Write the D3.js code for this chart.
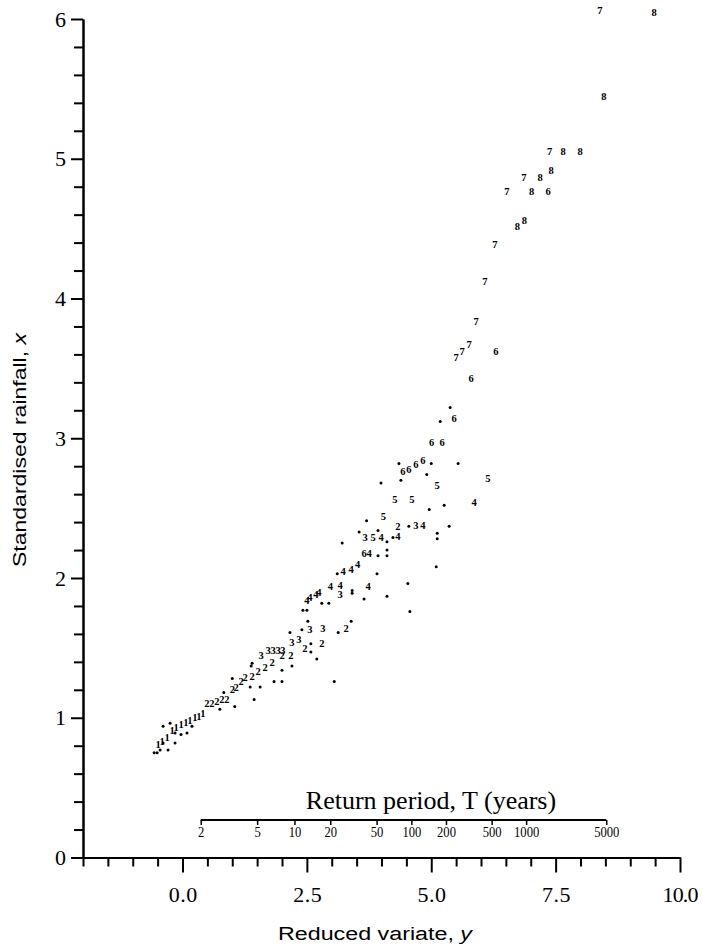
<!DOCTYPE html>
<html>
<head>
<meta charset="utf-8">
<script src="https://cdn.jsdelivr.net/npm/d3@7"></script>
<style>
body { margin: 0; background: #fff; }
</style>
</head>
<body>
<div id="chart"></div>
<script>
// axis ticks
var xTickMajor = [0, 2.5, 5, 7.5, 10];
var xTickLabels = ["0.0", "2.5", "5.0", "7.5", "10.0"];
var yTickMajor = [0, 1, 2, 3, 4, 5, 6];
var returnPeriods = [2, 5, 10, 20, 50, 100, 200, 500, 1000, 5000];

// plotted points, [reduced variate y, standardised rainfall x], one list per marker digit
var s1 = [[-0.49,0.81],[-0.41,0.83],[-0.31,0.86],[-0.21,0.91],[-0.13,0.93],[-0.03,0.95],[0.07,0.97],[0.15,0.98],[0.25,1.00],[0.33,1.01],[0.41,1.03]];
var s2 = [[0.49,1.10],[0.59,1.10],[0.69,1.12],[0.79,1.13],[0.89,1.13],[1.00,1.20],[1.08,1.22],[1.18,1.26],[1.26,1.29],[1.40,1.30],[1.52,1.33],[1.66,1.36],[1.80,1.40],[2.00,1.45],[2.18,1.45],[2.46,1.50],[2.80,1.53],[3.29,1.64],[4.33,2.37]];
var s3 = [[1.58,1.45],[1.72,1.48],[1.82,1.48],[1.92,1.48],[2.02,1.48],[2.20,1.54],[2.34,1.56],[2.56,1.63],[2.82,1.64],[3.17,1.88],[3.67,2.29],[4.69,2.38]];
var s4 = [[2.50,1.84],[2.56,1.86],[2.68,1.88],[2.74,1.90],[2.97,1.94],[3.17,1.95],[3.23,2.05],[3.39,2.06],[3.52,2.10],[3.73,1.94],[3.75,2.18],[3.99,2.29],[4.33,2.30],[4.83,2.38],[5.86,2.54]];
var s5 = [[3.83,2.29],[4.04,2.44],[4.27,2.56],[4.61,2.56],[5.12,2.66],[6.14,2.71]];
var s6 = [[3.65,2.18],[4.43,2.76],[4.55,2.78],[4.69,2.81],[4.83,2.84],[5.01,2.97],[5.22,2.97],[5.46,3.14],[5.80,3.43],[6.30,3.62],[7.35,4.77]];
var s7 = [[5.50,3.58],[5.62,3.62],[5.76,3.67],[5.90,3.84],[6.08,4.12],[6.28,4.39],[6.52,4.77],[6.86,4.87],[7.38,5.05],[8.39,6.06]];
var s8 = [[6.73,4.52],[6.87,4.56],[7.02,4.77],[7.19,4.87],[7.41,4.92],[7.65,5.05],[7.99,5.05],[8.47,5.45],[9.48,6.05]];
var dots = [[-0.57,0.75],[-0.51,0.75],[-0.45,0.77],[-0.29,0.77],[-0.39,0.82],[-0.15,0.82],[-0.15,0.89],[-0.03,0.88],[0.09,0.89],[0.19,0.94],[-0.39,0.94],[-0.25,0.96],
            [0.75,1.06],[1.05,1.08],[1.44,1.13],[1.00,1.28],[0.83,1.18],[1.56,1.22],[1.36,1.22],[1.38,1.37],[1.40,1.39],
            [2.16,1.61],[2.40,1.63],[2.52,1.69],[2.70,1.42],[3.05,1.26],[3.13,1.61],[2.00,1.34],[2.20,1.37],[1.84,1.26],[2.00,1.26],[2.58,1.53],[2.58,1.47],
            [2.42,1.77],[2.50,1.77],[2.80,1.82],[2.94,1.82],[3.39,1.69],
            [3.11,2.03],[3.41,1.91],[3.41,1.89],[3.65,1.85],[4.11,1.87],[3.91,2.03],[4.53,1.96],[4.57,1.76],[5.10,2.08],
            [3.21,2.25],[3.55,2.33],[3.93,2.34],[3.93,2.16],[4.11,2.20],[4.11,2.16],[4.11,2.26],[4.23,2.29],[3.70,2.41],[3.99,2.68],
            [4.55,2.37],[5.12,2.32],[5.12,2.28],[5.36,2.37],[4.96,2.49],[5.26,2.52],
            [4.35,2.82],[4.39,2.70],[4.91,2.74],[5.00,2.82],[5.54,2.82],[5.18,3.12],[5.38,3.22]];

var series = [s1, s2, s3, s4, s5, s6, s7, s8];

var svg = d3.select("#chart")
            .append("svg")
            .attr("width", 703)
            .attr("height", 945);

var x = d3.scaleLinear().domain([-2, 10]).range([83, 680]);
var y = d3.scaleLinear().domain([0, 6]).range([857.5, 19]);

// gumbel reduced variate for a return period
function gumbel(T) {
    return -Math.log(-Math.log(1 - 1 / T));
}

// x axis: minor then major ticks
var xMinor = d3.range(-2, 10.01, 0.5).filter(function(v) { return xTickMajor.indexOf(v) < 0; });
svg.append("g")
    .attr("transform", "translate(0," + y(0) + ")")
    .call(d3.axisBottom(x).tickValues(xMinor).tickSize(9).tickSizeOuter(0).tickFormat(""));
var xAxis = svg.append("g")
    .attr("transform", "translate(0," + y(0) + ")")
    .call(d3.axisBottom(x).tickValues(xTickMajor).tickSize(15).tickSizeOuter(0)
          .tickFormat(function(d, i) { return xTickLabels[i]; }));
xAxis.selectAll("text")
    .attr("y", 29)
    .attr("dy", "0.71em")
    .style("font-family", "'Liberation Serif', 'Times New Roman', serif")
    .style("font-size", "22px")
    .attr("textLength", function(d, i) { return xTickLabels[i].length * 7.5 + 6; })
    .attr("lengthAdjust", "spacing");

// y axis
var yMinor = d3.range(0, 6.01, 0.2).filter(function(v) { return Math.abs(v - Math.round(v)) > 0.01; });
svg.append("g")
    .attr("transform", "translate(" + x(-2) + ",0)")
    .call(d3.axisLeft(y).tickValues(yMinor).tickSize(9).tickSizeOuter(0).tickFormat(""));
var yAxis = svg.append("g")
    .attr("transform", "translate(" + x(-2) + ",0)")
    .call(d3.axisLeft(y).tickValues(yTickMajor).tickSize(12).tickSizeOuter(0).tickFormat(d3.format("d")));
yAxis.selectAll("text")
    .attr("x", -17)
    .style("font-family", "'Liberation Serif', 'Times New Roman', serif")
    .style("font-size", "22px");

svg.selectAll(".domain, .tick line")
    .attr("stroke", "#000")
    .attr("stroke-width", 2);

// return period scale
var tAxis = svg.append("g")
    .attr("transform", "translate(0,820)")
    .call(d3.axisBottom(x).tickValues(returnPeriods.map(gumbel)).tickSize(5).tickSizeOuter(0)
          .tickFormat(function(d, i) { return returnPeriods[i]; }));
tAxis.select(".domain").remove();
tAxis.append("line")
    .attr("x1", x(gumbel(2)))
    .attr("x2", x(gumbel(5000)))
    .attr("y1", 0)
    .attr("y2", 0)
    .attr("stroke", "#000")
    .attr("stroke-width", 2);
tAxis.selectAll(".tick line").attr("stroke", "#000").attr("stroke-width", 1.5);
tAxis.selectAll("text")
    .attr("y", 6)
    .attr("fill", "#000")
    .style("font-family", "'Liberation Serif', 'Times New Roman', serif")
    .style("font-size", "15px")
    .attr("textLength", function(d, i) { return String(returnPeriods[i]).length * 6.3; })
    .attr("lengthAdjust", "spacingAndGlyphs");

svg.append("text")
    .attr("x", 431)
    .attr("y", 809)
    .attr("text-anchor", "middle")
    .style("font-family", "'Liberation Serif', 'Times New Roman', serif")
    .style("font-size", "26px")
    .text("Return period, T (years)");

// axis titles
var xTitle = svg.append("text")
    .attr("x", 375)
    .attr("y", 940)
    .attr("text-anchor", "middle")
    .attr("textLength", 194)
    .attr("lengthAdjust", "spacingAndGlyphs")
    .style("font-family", "'Liberation Sans', Arial, sans-serif")
    .style("font-size", "18px");
xTitle.append("tspan").text("Reduced variate, ");
xTitle.append("tspan").style("font-style", "italic").text("y");

var yTitle = svg.append("text")
    .attr("transform", "translate(26,450) rotate(-90)")
    .attr("text-anchor", "middle")
    .attr("textLength", 234)
    .attr("lengthAdjust", "spacingAndGlyphs")
    .style("font-family", "'Liberation Sans', Arial, sans-serif")
    .style("font-size", "18px");
yTitle.append("tspan").text("Standardised rainfall, ");
yTitle.append("tspan").style("font-style", "italic").text("x");

// points
svg.append("g").selectAll("circle")
    .data(dots)
    .enter().append("circle")
    .attr("cx", function(d) { return x(d[0]); })
    .attr("cy", function(d) { return y(d[1]); })
    .attr("r", 1.5)
    .attr("fill", "#000");

series.forEach(function(s, k) {
    svg.append("g").selectAll("text")
        .data(s)
        .enter().append("text")
        .attr("x", function(d) { return x(d[0]); })
        .attr("y", function(d) { return y(d[1]); })
        .attr("dy", "0.35em")
        .attr("text-anchor", "middle")
        .style("font-family", "'Liberation Serif', 'Times New Roman', serif")
        .style("font-weight", "bold")
        .style("font-size", "10.5px")
        .text(k + 1);
});
</script>
</body>
</html>
